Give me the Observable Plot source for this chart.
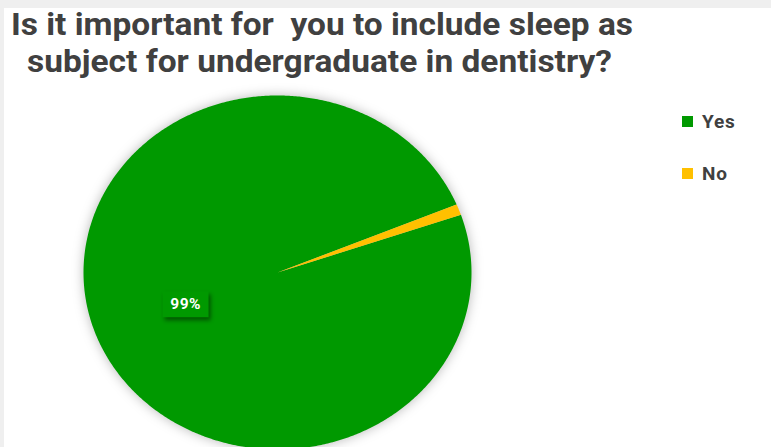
<!DOCTYPE html>
<html><head><meta charset="utf-8">
<script src="https://cdn.jsdelivr.net/npm/d3@7"></script>
<script src="https://cdn.jsdelivr.net/npm/@observablehq/plot@0.6"></script>
<style>
html,body{margin:0;padding:0;background:#fff;}
#page{position:relative;width:771px;height:447px;overflow:hidden;background:#fff;font-family:Roboto,"Open Sans",sans-serif;}
#topband{position:absolute;left:0;top:0;width:771px;height:8px;background:#efefef;}
#leftband{position:absolute;left:0;top:0;width:4px;height:447px;background:#efefef;}
#chart,#title,#legend{position:absolute;left:0;top:0;}
</style></head>
<body>
<div id="page">
  <div id="topband"></div>
  <div id="leftband"></div>
  <div id="chart"></div>
  <svg id="title" width="771" height="90"></svg>
  <svg id="legend" width="771" height="447" style="pointer-events:none"></svg>
</div>
<script>
// ---- data ----
const titleLines = ["Is it important for  you to include sleep as", "subject for undergraduate in dentistry?"];
const categories = ["Yes", "No"];
const values = [99, 1];
const colors = ["#009900", "#FFC000"];
const valueLabels = ["99%", null];
const firstSliceAngle = 71; // degrees, clockwise from 12 o'clock

// ---- build slice geometry ----
const total = d3.sum(values);
let acc = firstSliceAngle;
const slices = categories.map((c, i) => {
  const a0 = acc, a1 = acc + values[i] / total * 360;
  acc = a1;
  return {c, a0, a1, v: values[i], label: valueLabels[i]};
});
const pts = [];
slices.forEach(s => {
  pts.push({c: s.c, x: 0, y: 0});
  const n = Math.max(2, Math.ceil((s.a1 - s.a0) / 0.5));
  for (let k = 0; k <= n; k++) {
    const a = (s.a0 + (s.a1 - s.a0) * k / n) * Math.PI / 180;
    pts.push({c: s.c, x: Math.sin(a), y: Math.cos(a)});
  }
  pts.push({c: s.c, x: 0, y: 0});
});
const lbls = slices.filter(s => s.label).map(s => {
  const m = (s.a0 + s.a1) / 2 * Math.PI / 180, r = 0.507;
  return {t: s.label, x: Math.sin(m) * r, y: Math.cos(m) * r};
});

const boxSymbol = {draw(ctx) { ctx.rect(-23, -13, 46, 26); }};

const plot = Plot.plot({
  width: 771, height: 447, margin: 0,
  x: {domain: [-1, 1], range: [83, 471], axis: null},
  y: {domain: [-1, 1], range: [449, 95], axis: null},
  color: {domain: categories, range: colors},
  style: {background: "transparent", overflow: "visible"},
  marks: [
    Plot.line(pts, {x: "x", y: "y", z: "c", fill: "c", stroke: "none", curve: "linear"}),
    Plot.dot(lbls, {x: "x", y: "y", symbol: boxSymbol, fill: colors[0], stroke: "none", r: 10}),
    Plot.text(lbls, {x: "x", y: "y", text: "t", fill: "white", fontSize: 15.5, fontWeight: "bold", fontFamily: "Roboto, sans-serif"})
  ]
});
document.getElementById("chart").appendChild(plot);
d3.select(plot).select('g[aria-label="line"]').style("filter", "drop-shadow(0px 0px 6px rgba(0,0,0,0.28))");
d3.select(plot).select('g[aria-label="dot"]').style("filter", "drop-shadow(2px 3px 2px rgba(0,0,0,0.45))");
d3.select(plot).select('g[aria-label="text"]').attr("letter-spacing", "0.4px");

// ---- title ----
const tsvg = d3.select("#title");
const tpos = [{x: 11, y: 35, w: 622}, {x: 27, y: 72, w: 585}];
titleLines.forEach((t, i) => {
  tsvg.append("text").attr("x", tpos[i].x).attr("y", tpos[i].y)
    .attr("textLength", tpos[i].w).attr("lengthAdjust", "spacingAndGlyphs")
    .style("white-space", "pre")
    .attr("font-family", "Roboto, sans-serif").attr("font-weight", "bold").attr("font-size", 32)
    .attr("fill", "#404040").text(t);
});

// ---- legend ----
const lsvg = d3.select("#legend");
categories.forEach((c, i) => {
  const y0 = 116 + i * 52;
  lsvg.append("rect").attr("x", 682).attr("y", y0).attr("width", 11).attr("height", 11).attr("fill", colors[i]);
  lsvg.append("text").attr("x", 702).attr("y", y0 + 12).attr("font-family", "Roboto, sans-serif")
    .attr("font-weight", "bold").attr("font-size", 19).attr("letter-spacing", "0.8px").attr("fill", "#404040").text(c);
});
</script>
</body></html>
